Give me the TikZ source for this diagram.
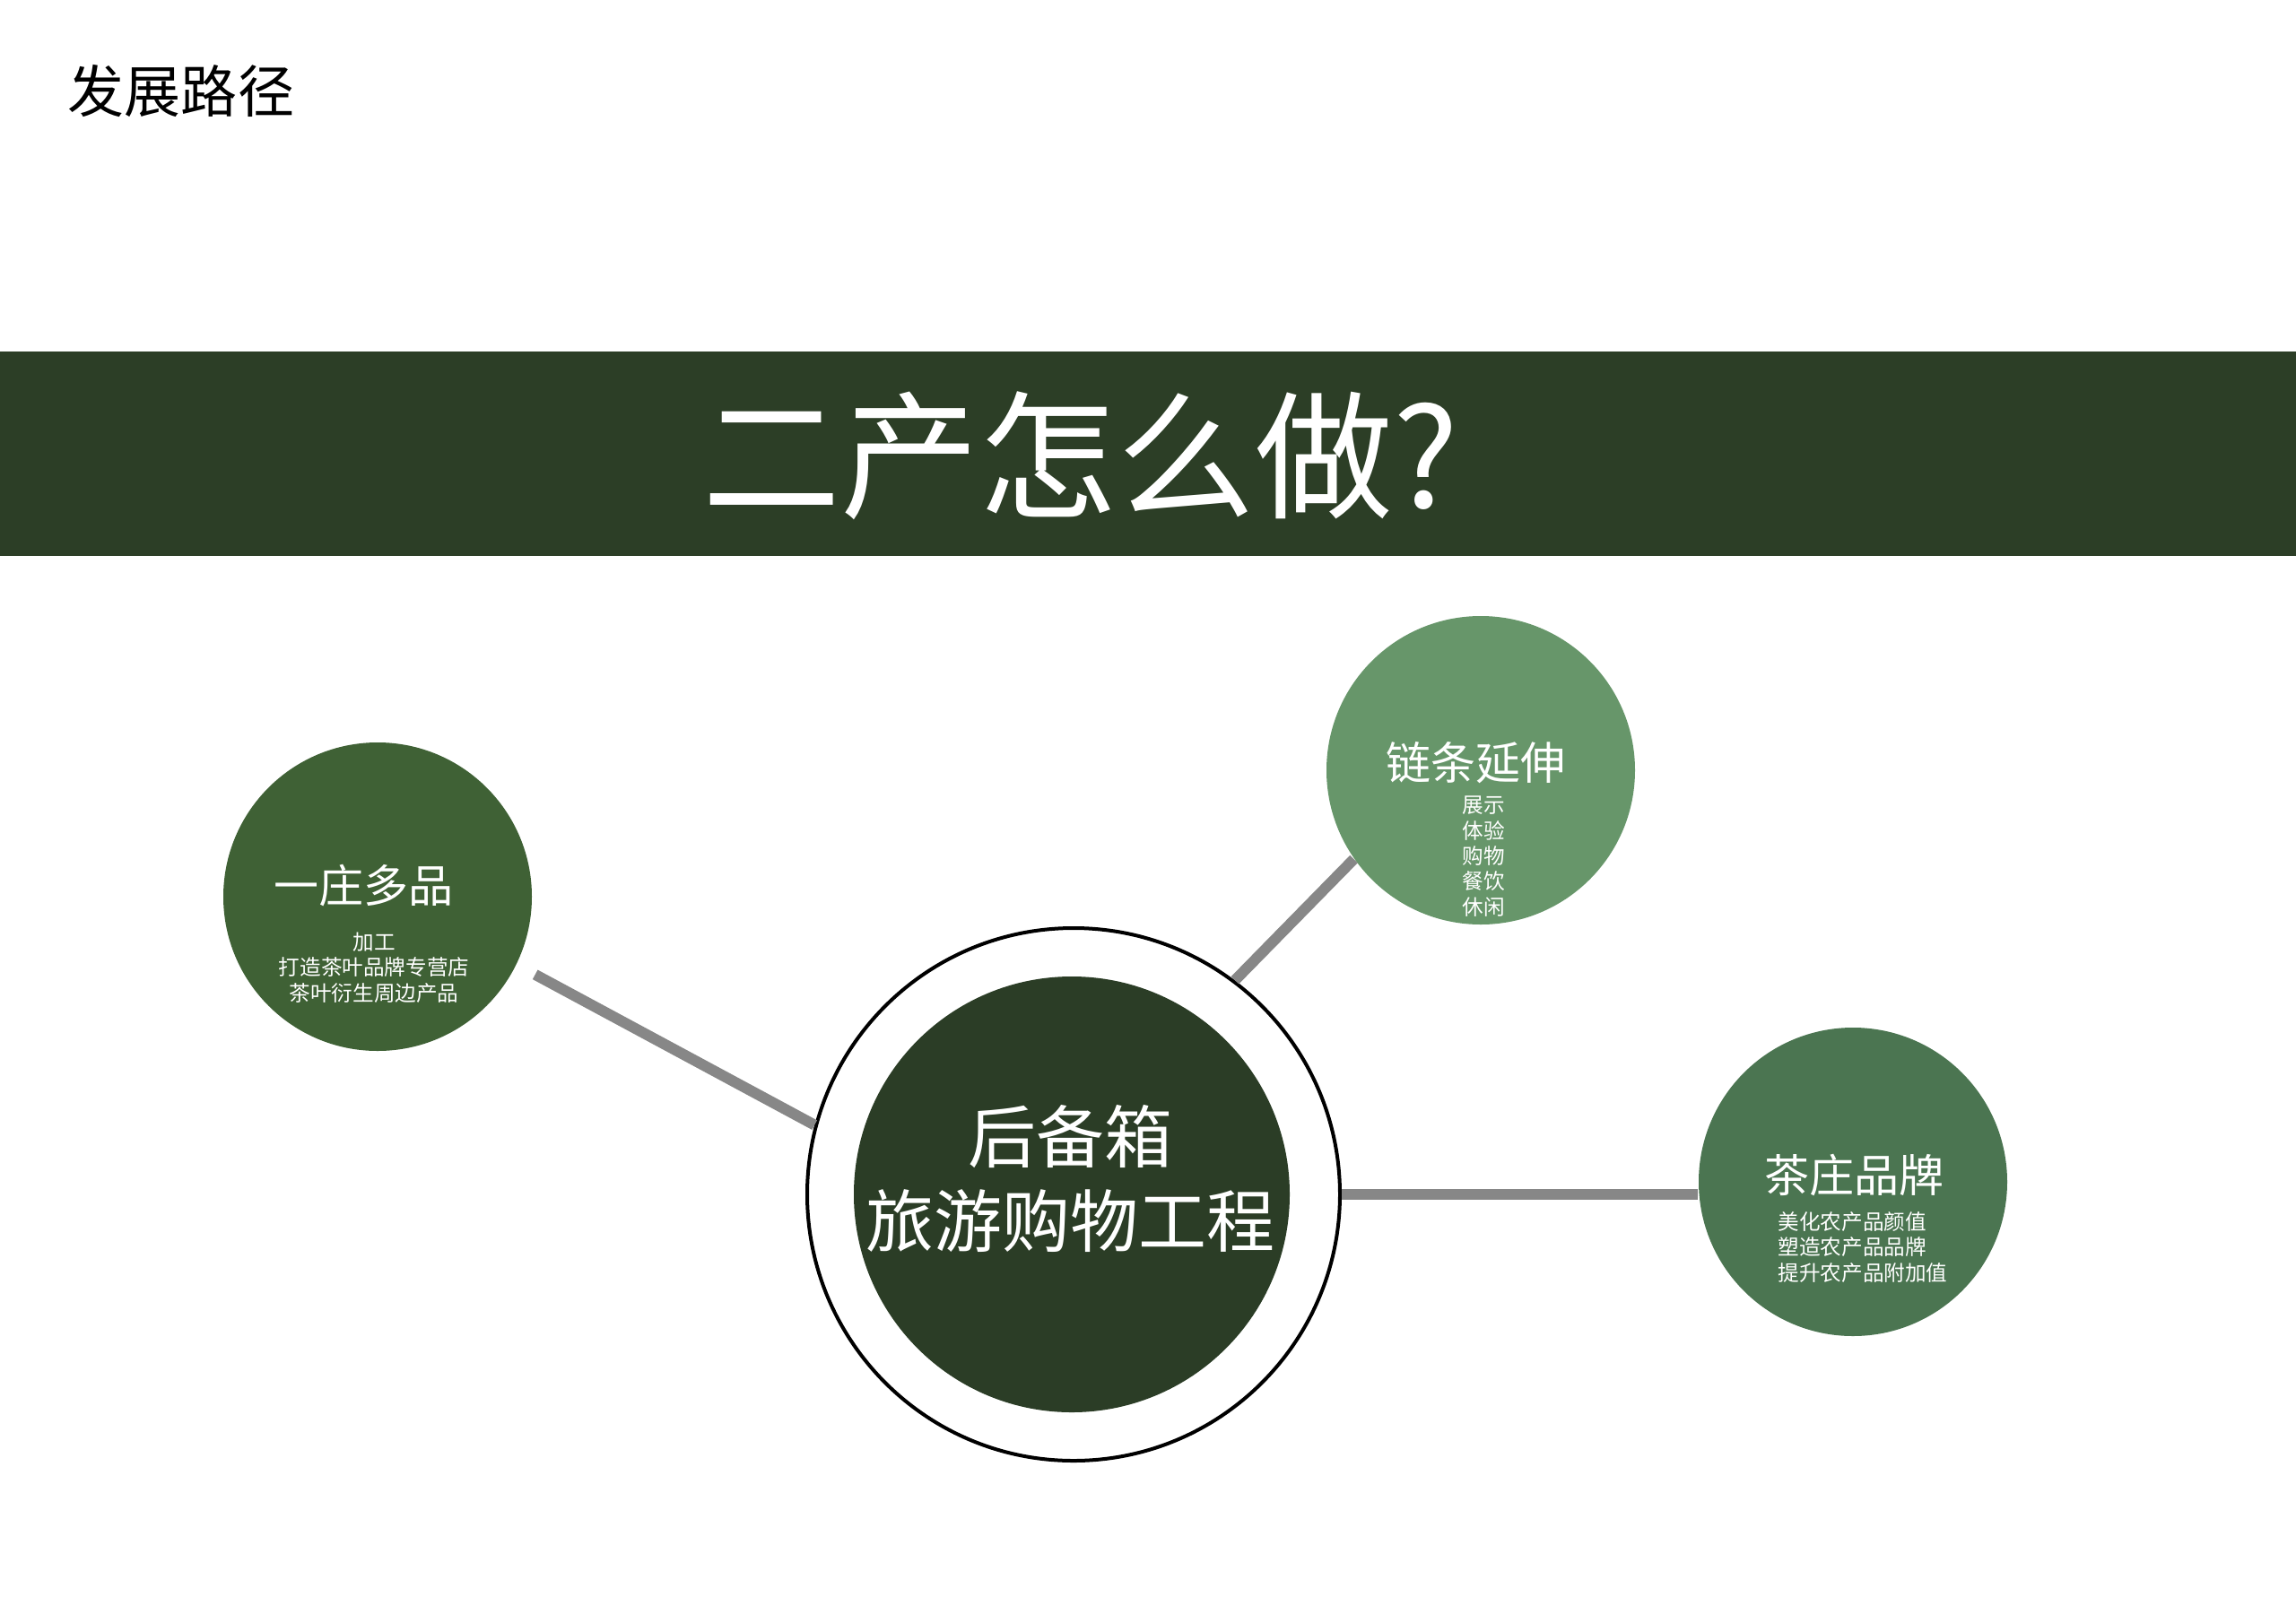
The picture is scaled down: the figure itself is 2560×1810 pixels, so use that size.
\documentclass[tikz,border=0pt]{standalone}
\usepackage{fontspec}
\setmainfont{Noto Sans CJK SC}
\usetikzlibrary{calc}
\definecolor{bannergreen}{HTML}{2C3E26}
\definecolor{coregreen}{HTML}{2B3D26}
\definecolor{leftgreen}{HTML}{3F6135}
\definecolor{topgreen}{HTML}{67966A}
\definecolor{rightgreen}{HTML}{4B7551}
\definecolor{conngray}{HTML}{878787}
\tikzset{
  pagetitle/.style={inner sep=0pt, font=\fontsize{15.75pt}{18pt}\selectfont, text=black},
  bannertitle/.style={inner sep=0pt, font=\fontsize{38.5pt}{41pt}\selectfont, text=white},
  bubble/.style={circle, inner sep=0pt, draw=none, minimum size=86pt},
  bubbletitle/.style={inner sep=0pt, font=\fontsize{12.5pt}{14pt}\selectfont, text=white},
  bubblesub/.style={inner sep=0pt, align=center, font=\fontsize{5.9pt}{7.1pt}\selectfont, text=white},
  coretext/.style={inner sep=0pt, align=center, font=\fontsize{19pt}{23.5pt}\selectfont, text=white},
  conn/.style={draw=conngray, line width=3pt},
}
\begin{document}
\begin{tikzpicture}[x=0.25pt,y=-0.25pt]
\useasboundingbox (0,0) rectangle (2560,1810);
\fill[white] (0,0) rectangle (2560,1810);

% page title
\node[pagetitle] (pt) at (202,102) {发展路径};

% banner
\fill[bannergreen] (0,392) rectangle (2560,620);
\node[bannertitle] (bt) at (1205,508) {二产怎么做?};

% central circle
\node[circle, inner sep=0pt, minimum size=148.5pt, draw=black, line width=1pt, fill=white] (C) at (1197,1332) {};
\node[circle, inner sep=0pt, minimum size=121.5pt, fill=coregreen] (Ci) at (1195,1332) {};
\node[coretext] (ct) at (1193,1314) {后备箱\\旅游购物工程};

% satellite circles
\node[bubble, fill=leftgreen] (L) at (421,1000) {};
\node[bubble, fill=topgreen] (T) at (1651,859) {};
\node[bubble, fill=rightgreen] (R) at (2066,1318) {};

\node[bubbletitle] (Lt) at (405,988) {一庄多品};
\node[bubblesub] (Ls) at (417,1079) {加工\\打造茶叶品牌专营店\\茶叶衍生周边产品};

\node[bubbletitle] (Tt) at (1645,851) {链条延伸};
\node[bubblesub] (Ts) at (1654,955) {展示\\体验\\购物\\餐饮\\休闲};

\node[bubbletitle] (Rt) at (2067,1311) {茶庄品牌};
\node[bubblesub, align=left] (Rs) at (2077,1391) {美化农产品颜值\\塑造农产品品牌\\提升农产品附加值};

% connectors
\path (L.center) ++(-26.3:49pt) coordinate (Lend);
\draw[conn] (Lend) -- (C.165.6);
\draw[conn] (C.53.5) -- (T.215.6);
\draw[conn] (C.east) -- (C.east -| R.west);
\end{tikzpicture}
\end{document}
